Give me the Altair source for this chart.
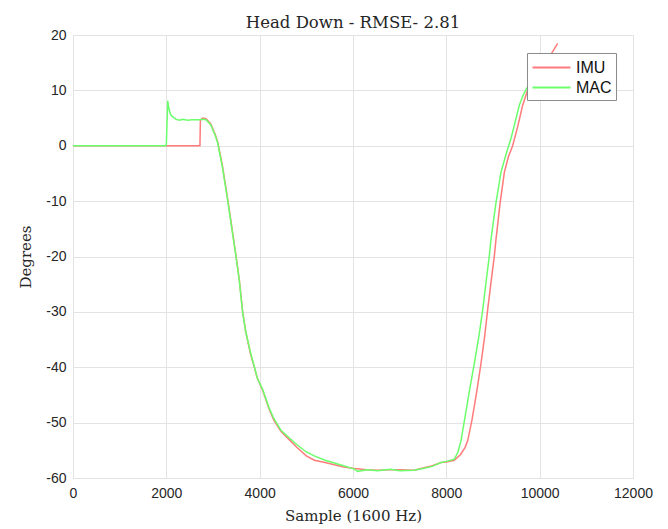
import altair as alt
import pandas as pd

# ---- data ----
imu_x = [0, 2720, 2730, 2780, 2850, 2950, 3050, 3100, 3200, 3314, 3400, 3493, 3564, 3636,
         3700, 3800, 3886, 3950, 4064, 4200, 4300, 4457, 4600, 4800, 5000, 5171, 5400,
         5600, 5800, 6029, 6300, 6529, 6800, 7000, 7310, 7500, 7700, 7886, 8000, 8171,
         8300, 8400, 8457, 8550, 8650, 8743, 8820, 8886, 8960, 9029, 9064, 9150, 9243,
         9330, 9421, 9530, 9636, 9757, 9900, 10050, 10180, 10279, 10386]
imu_y = [0, 0, 4.6, 5.0, 4.9, 4.0, 2.0, 0.7, -3.5, -9.6, -14.5, -19.9, -24.2, -30.0,
         -33.5, -37.5, -40.0, -42.0, -44.2, -47.5, -49.5, -51.6, -52.8, -54.5, -56.0, -56.8, -57.2,
         -57.6, -58.0, -58.3, -58.5, -58.6, -58.5, -58.5, -58.6, -58.2, -57.8, -57.2, -57.1, -56.8,
         -55.8, -54.5, -53.3, -49.5, -44.5, -39.3, -34.5, -29.6, -24.5, -19.9, -16.9, -10.5, -4.8,
         -2.0, 0.0, 3.5, 7.3, 10.4, 12.5, 14.5, 15.8, 17.0, 18.5]

mac_x = [0, 1990, 2000, 2030, 2060, 2100, 2140, 2200, 2279, 2350, 2457, 2550, 2707, 2780,
         2850, 2950, 3050, 3100, 3200, 3314, 3400, 3493, 3564, 3636, 3700, 3800, 3886, 3950,
         4064, 4200, 4300, 4457, 4600, 4800, 5000, 5171, 5400, 5600, 5800, 6029, 6100, 6300,
         6529, 6800, 7000, 7310, 7500, 7700, 7886, 8000, 8171, 8250, 8314, 8400, 8500, 8600,
         8700, 8780, 8850, 8921, 8957, 9060, 9171, 9280, 9386, 9480, 9564, 9650, 9743, 9850, 9950]
mac_y = [0, 0, 0.3, 8.1, 6.5, 5.5, 5.2, 4.8, 4.6, 4.8, 4.6, 4.7, 4.7, 4.8,
         4.7, 3.8, 1.8, 0.5, -3.8, -9.8, -14.8, -20.0, -24.4, -30.2, -33.5, -37.2, -39.9, -42.0,
         -44.0, -47.3, -49.2, -51.4, -52.5, -54.0, -55.3, -56.0, -56.8, -57.3, -57.8, -58.4, -58.8, -58.5,
         -58.7, -58.4, -58.7, -58.6, -58.3, -57.9, -57.2, -57.0, -56.6, -55.3, -53.3, -49.0, -44.0, -39.3,
         -34.3, -29.6, -24.7, -19.9, -16.9, -10.5, -4.8, -1.5, 1.3, 4.5, 7.3, 9.2, 10.7, 12.2, 13.3]

series_names = ["IMU", "MAC"]
series_colors = ["#ff7b7b", "#6cff6c"]
x_ticks = [0, 2000, 4000, 6000, 8000, 10000, 12000]
y_ticks = [-60, -50, -40, -30, -20, -10, 0, 10, 20]

df = pd.concat([
    pd.DataFrame({"sample": imu_x, "deg": imu_y, "series": "IMU", "idx": range(len(imu_x))}),
    pd.DataFrame({"sample": mac_x, "deg": mac_y, "series": "MAC", "idx": range(len(mac_x))}),
])

serif = "DejaVu Serif"
sans = "Liberation Sans"

axis_common = dict(labelFont=sans, labelFontSize=14, labelColor="#262626",
                   ticks=False, domain=False, labelExpr="datum.value + ''",
                   titleFont=serif, titleFontSize=15, titleFontWeight="normal",
                   titleColor="#262626", gridColor="#e3e3e3", labelFlush=False)

chart = alt.Chart(df).mark_line(strokeWidth=1.5).encode(
    x=alt.X("sample:Q",
            scale=alt.Scale(domain=[0, 12000], nice=False, zero=False),
            axis=alt.Axis(values=x_ticks, title="Sample (1600 Hz)",
                          labelPadding=8, titlePadding=8, **axis_common)),
    y=alt.Y("deg:Q",
            scale=alt.Scale(domain=[-60, 20], nice=False, zero=False),
            axis=alt.Axis(values=y_ticks, title="Degrees",
                          labelPadding=7, titlePadding=12, **axis_common)),
    color=alt.Color("series:N",
                    scale=alt.Scale(domain=series_names, range=series_colors),
                    legend=alt.Legend(title=None, orient="none", legendX=454, legendY=18,
                                      fillColor="white", strokeColor="#8c8c8c",
                                      padding=4, symbolType="M-2,0H2", symbolSize=361,
                                      symbolOffset=10, symbolStrokeWidth=2,
                                      symbolFillColor="transparent",
                                      labelFont=sans, labelFontSize=16,
                                      labelColor="#111111", rowPadding=1, labelOffset=14)),
    order="idx:Q",
).properties(
    width=560, height=443,
    title=alt.TitleParams("Head Down - RMSE- 2.81", font=serif, fontSize=16.5,
                          fontWeight="normal", color="#262626", offset=-3),
    autosize=alt.AutoSizeParams(type="none"),
    padding={"left": 65, "top": 27, "right": 27, "bottom": 50},
).configure_view(stroke="#8c8c8c", strokeWidth=1).configure(background="white")

chart.save("out.html", embed_options={"renderer": "svg", "actions": False})
